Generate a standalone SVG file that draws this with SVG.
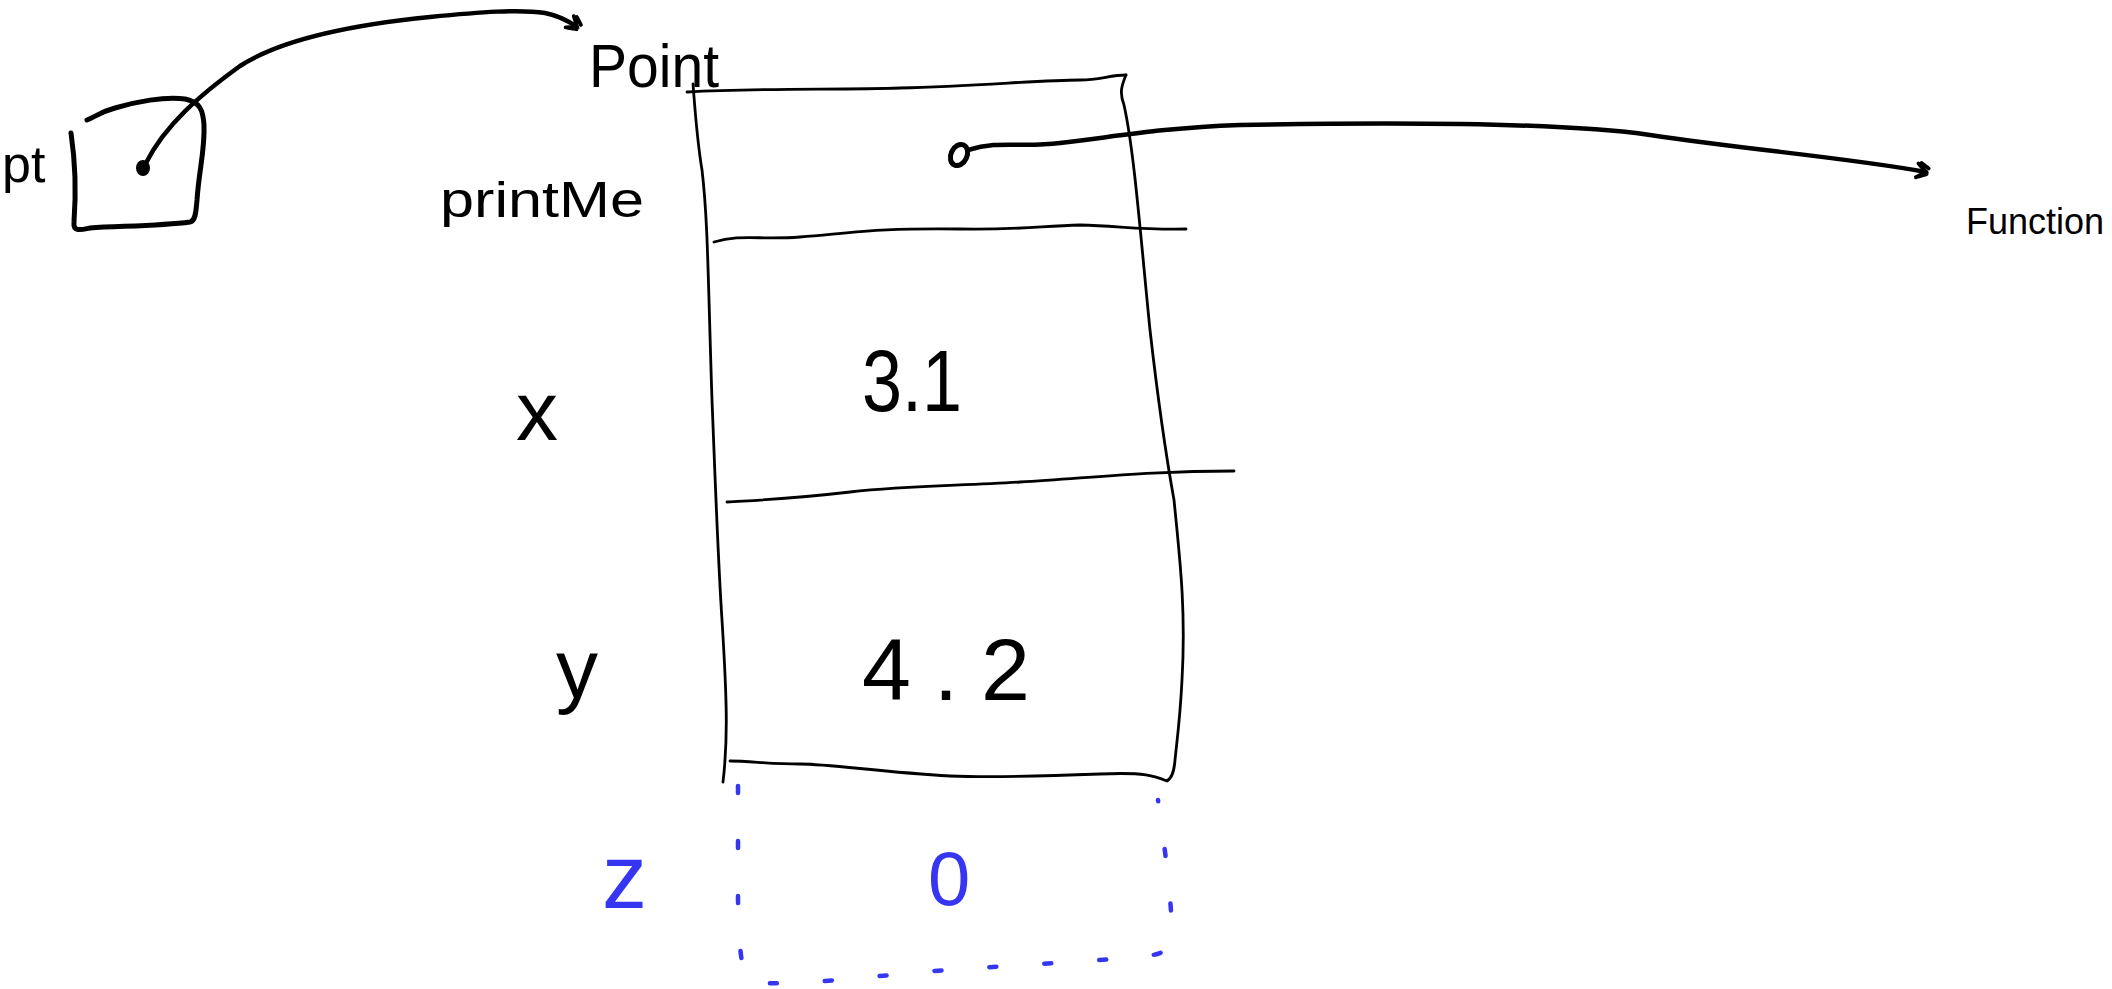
<svg xmlns="http://www.w3.org/2000/svg" width="2112" height="989" viewBox="0 0 2112 989">
  <style>
    .hand { font-family: "Liberation Sans", "DejaVu Sans", sans-serif; fill: #000; }
    .blue { font-family: "Liberation Sans", "DejaVu Sans", sans-serif; fill: #3636f2; }
    .thin { fill: none; stroke: #000; stroke-width: 2.8; stroke-linecap: round; stroke-linejoin: round; }
    .thick { fill: none; stroke: #000; stroke-width: 5; stroke-linecap: round; stroke-linejoin: round; }
    .wire { fill: none; stroke: #000; stroke-width: 4.5; stroke-linecap: round; stroke-linejoin: round; }
    .dash { fill: none; stroke: #3636f2; stroke-width: 4.5; stroke-linecap: round; stroke-dasharray: 7 48; }
  </style>
  <defs>
    <marker id="arrow" viewBox="-12 -10 20 20" markerWidth="20" markerHeight="20" refX="0" refY="0" orient="auto" markerUnits="userSpaceOnUse">
      <path d="M-9,-7 L0,0 L-9,7 M-6,-8 L2,-4 M-7,6 L1,2" fill="none" stroke="#000" stroke-width="3.8" stroke-linecap="round"/>
    </marker>
  </defs>

  <g id="node-pt">
    <text class="hand" x="2" y="182" font-size="52">pt</text>
    <path class="thick" d="M71,133 C75,160 76,195 74,222 C73,232 80,230 90,228 C120,226 160,226 190,222 C196,221 196,210 197,200 C199,170 205,150 204,125 C203,110 200,102 185,99 C165,96 135,102 115,108 C100,112 95,117 87,120"/>
    <ellipse cx="143" cy="168" rx="7" ry="8" fill="#000"/>
  </g>

  <g id="node-point">
    <text class="hand" x="589" y="87" font-size="62" textLength="130" lengthAdjust="spacingAndGlyphs">Point</text>
    <text class="hand" x="440" y="217" font-size="50" textLength="204" lengthAdjust="spacingAndGlyphs">printMe</text>
    <text class="hand" x="516" y="440" font-size="84">x</text>
    <text class="hand" x="556" y="698" font-size="84">y</text>
    <path class="thin" d="M687,92 C760,88 840,90 900,88 C980,86 1040,80 1080,80 C1100,80 1110,75 1126,75"/>
    <path class="thin" d="M693,84 C695,110 697,140 702,170 C708,220 708,280 712,400 C716,500 718,560 722,620 C727,700 728,740 723,782"/>
    <path class="thin" d="M1126,75 C1122,85 1119,92 1124,105 C1134,150 1140,230 1150,330 C1158,400 1165,450 1174,500 C1180,560 1186,610 1182,680 C1180,720 1177,740 1175,760 C1174,772 1172,778 1167,781 C1155,776 1145,772 1100,774 C1050,776 1000,778 950,776 C880,772 830,764 800,764 C770,764 750,761 730,761"/>
    <path class="thin" d="M714,242 C740,234 760,240 800,237 C860,232 880,228 960,229 C1020,230 1040,226 1080,225 C1120,226 1140,230 1186,229"/>
    <path class="thin" d="M727,502 C760,500 790,499 850,492 C910,485 960,486 1020,482 C1100,477 1150,471 1234,471"/>
    <ellipse cx="959" cy="155" rx="8" ry="11" transform="rotate(25 959 155)" fill="none" stroke="#000" stroke-width="5"/>
    <text class="hand" x="862" y="411" font-size="88" textLength="100" lengthAdjust="spacingAndGlyphs">3.1</text>
    <text class="hand" x="862" y="700" font-size="88" textLength="168" lengthAdjust="spacing">4.2</text>
  </g>

  <g id="node-z">
    <text class="blue" x="602" y="908" font-size="90">z</text>
    <text class="blue" x="928" y="905" font-size="76">0</text>
    <path class="dash" d="M738,786 L738,900 C739,940 740,965 748,983 C800,985 860,978 920,972 C1000,966 1080,962 1140,957 C1160,955 1172,950 1172,940 C1172,900 1165,850 1158,800"/>
  </g>

  <g id="node-function">
    <text class="hand" x="1966" y="234" font-size="36">Function</text>
  </g>

  <g id="connectors">
    <path class="wire" marker-end="url(#arrow)" d="M146,163 C165,125 200,95 240,66 C280,40 350,25 430,17 C480,12 520,9 545,13 C560,16 570,22 577,27"/>
    <path class="wire" marker-end="url(#arrow)" d="M968,150 C1000,140 1020,148 1060,143 C1120,136 1160,128 1240,125 C1400,122 1560,122 1650,135 C1750,150 1850,158 1926,172"/>
  </g>
</svg>
